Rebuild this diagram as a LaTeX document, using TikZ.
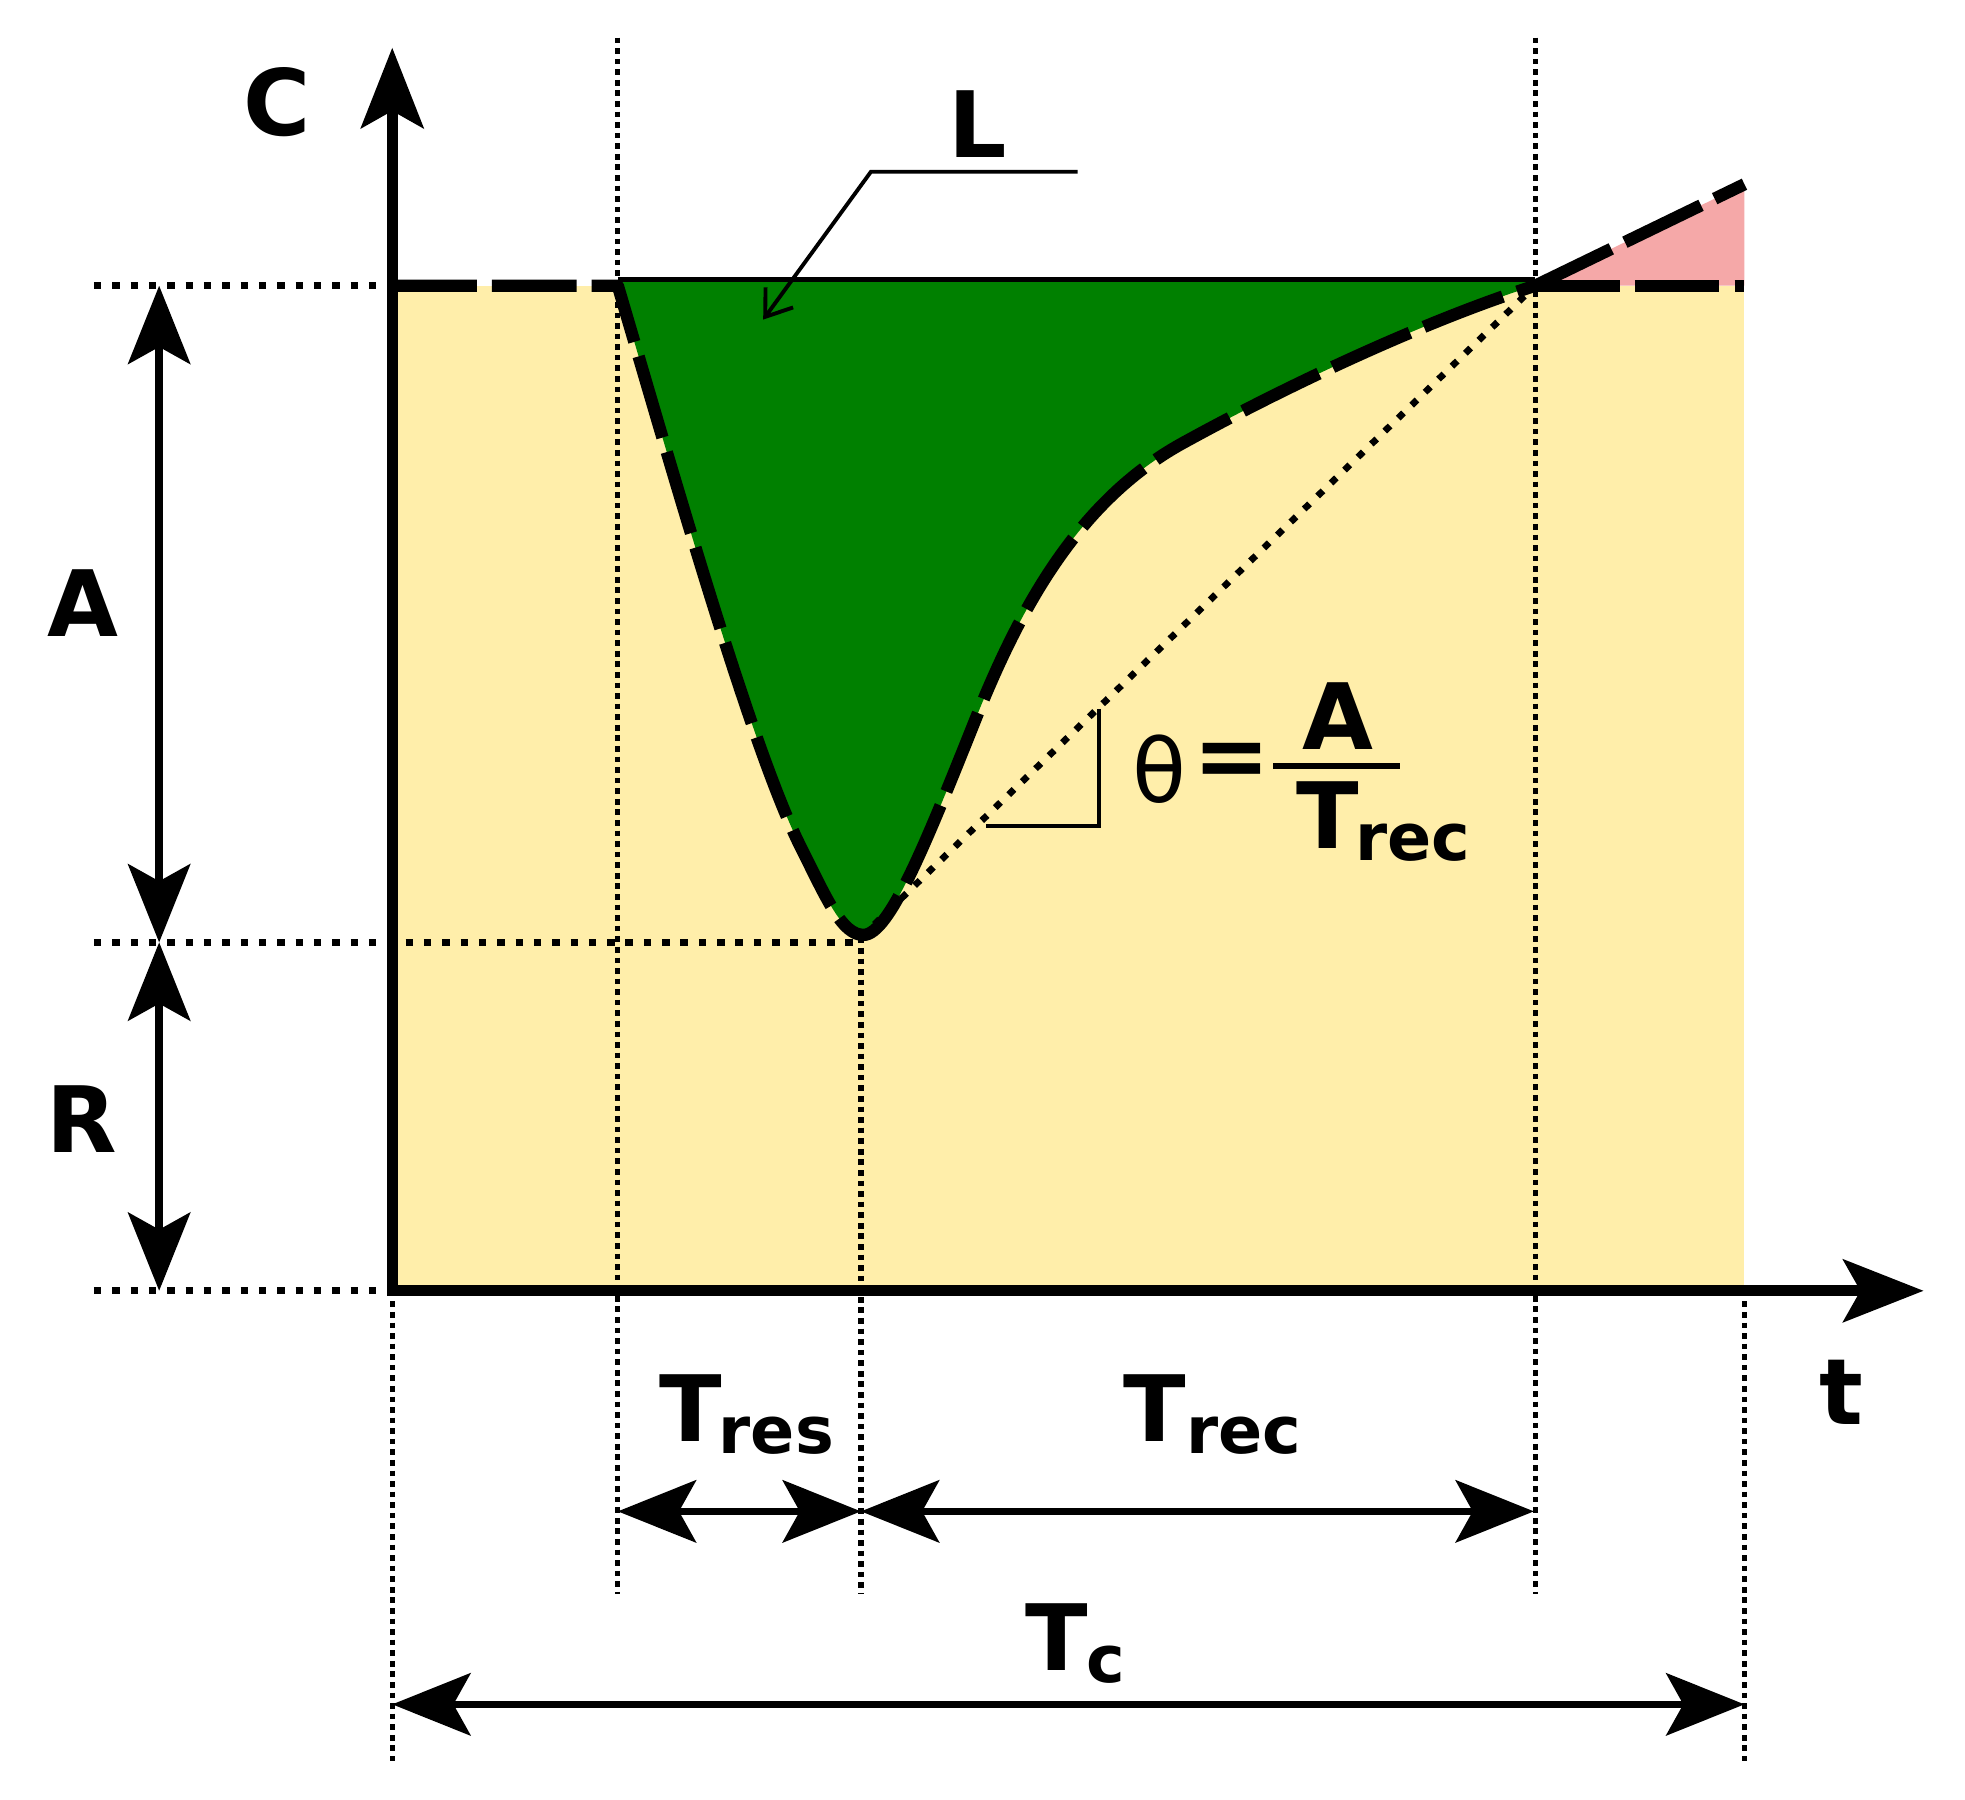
\documentclass[tikz,border=0pt]{standalone}
\usepackage{fontspec}
\setmainfont{DejaVu Sans}
\usetikzlibrary{arrows.meta}
\definecolor{bgyellow}{RGB}{255,238,170}
\definecolor{lossgreen}{RGB}{0,128,0}
\definecolor{gainpink}{RGB}{245,168,168}
\newcommand\Tsub[2][-0.04em]{T\kern#1\raisebox{-3.5pt}{\fontsize{18.5}{18.5}\selectfont #2}}
\tikzset{
  axisline/.style={line width=3.2pt, line join=miter,
    {Stealth[length=0.8cm,width=0.62cm,inset=0.17cm]}-{Stealth[length=0.8cm,width=0.62cm,inset=0.17cm]}},
  dimarrow/.style={line width=2.1pt,
    {Stealth[length=0.78cm,width=0.62cm,inset=0.17cm]}-{Stealth[length=0.78cm,width=0.62cm,inset=0.17cm]}},
  curveline/.style={line width=3.5pt, dash pattern=on 24pt off 4.3pt, line join=round},
  vdots/.style={line width=1.5pt, dash pattern=on 1.6pt off 1.4pt},
  hdots/.style={line width=1.9pt, dash pattern=on 2.1pt off 3.1pt},
  ddots/.style={line width=1.9pt, dash pattern=on 2.1pt off 3.2pt},
  thinline/.style={line width=1.2pt},
  lbl/.style={font=\fontsize{26}{26}\selectfont\bfseries, inner sep=0pt, anchor=base},
}
\begin{document}
\begin{tikzpicture}[x=0.0125cm,y=-0.0125cm]
\useasboundingbox (0,0) rectangle (1568,1436);
% key coordinates
\coordinate (O) at (313,1030);
\coordinate (Ytip) at (313,38);
\coordinate (Xtip) at (1535,1030);
\coordinate (S) at (493,228);
\coordinate (M) at (687,748);
\coordinate (E) at (1225,228);
\coordinate (Rend) at (1392,228);
\coordinate (Pk) at (1392,147);
\coordinate (Y0) at (313,228);
% fills
\fill[bgyellow] (313,228) rectangle (1392,1030);
\fill[lossgreen] (493,224) -- (493,228)
  .. controls (535,370) and (600,600) .. (640,678)
  .. controls (660,718) and (672,746) .. (689,746)
  .. controls (710,746) and (740,670) .. (782,565)
  .. controls (815,485) and (860,400) .. (943,354)
  .. controls (1030,306) and (1140,255) .. (1224,228)
  -- (1224,224) -- cycle;
\fill[gainpink] (E) -- (Pk) -- (Rend) -- cycle;
% dotted guide lines
\draw[vdots] (493,30) -- (493,1272);
\draw[vdots] (1225,30) -- (1225,1272);
\draw[vdots] (M) -- (687,1272);
\draw[vdots] (O) -- (313,1405);
\draw[vdots] (1392,1030) -- (1392,1405);
\draw[hdots] (75,228) -- (Y0);
\draw[hdots] (75,752) -- (687,752);
\draw[hdots] (75,1030) -- (O);
\draw[ddots] (M) -- (E);
% thin top edge of the loss area
\draw[thinline] (493,223) -- (1225,223);
% response curve
\draw[curveline] (Y0) -- (S)
  .. controls (535,370) and (600,600) .. (640,678)
  .. controls (660,718) and (672,746) .. (689,746)
  .. controls (710,746) and (740,670) .. (782,565)
  .. controls (815,485) and (860,400) .. (943,354)
  .. controls (1030,306) and (1140,255) .. (E);
\draw[curveline] (E) -- (Rend);
\draw[curveline] (E) -- (Pk);
% axes
\draw[axisline] (Ytip) -- (O) -- (Xtip);
% slope triangle
\draw[line width=1.3pt] (877,566) -- (877,659) -- (787,659);
% dimension arrows
\draw[dimarrow] (127,228) -- (127,752);
\draw[dimarrow] (127,752) -- (127,1030);
\draw[dimarrow] (493,1206) -- (687,1206);
\draw[dimarrow] (687,1206) -- (1224,1206);
\draw[dimarrow] (313,1360) -- (1392,1360);
% L leader
\coordinate (Lr) at (860,137);
\coordinate (Lk) at (695,137);
\coordinate (Lt) at (609,255);
\draw[line width=1.1pt, -{Straight Barb[length=0.24cm,width=0.34cm]}] (Lr) -- (Lk) -- (Lt);
% labels
\node[lbl] (lC) at (221,108) {C};
\node[lbl] (lL) at (780,126) {L};
\node[lbl] (lA) at (66,508) {A};
\node[lbl] (lR) at (65,920) {R};
\node[lbl] (lt) at (1469,1137) {t};
\node[lbl, anchor=base west] (lTres) at (526,1150) {\Tsub{res}};
\node[lbl, anchor=base west] (lTrec) at (896,1150) {\Tsub[0em]{rec}};
\node[lbl, anchor=base west] (lTc) at (818,1333) {\Tsub[-0.02em]{c}};
% formula
\node[font=\fontsize{25}{25}\selectfont, inner sep=0pt, anchor=base] (th) at (925,640) {θ};
\node[lbl, anchor=center] (eq) at (983,611) {=};
\draw[line width=1.8pt] (1016,611) -- (1117,611);
\node[lbl] (fA) at (1068,598) {A};
\node[lbl, anchor=base west] (fT) at (1034,677) {\Tsub[-0.04em]{rec}};
\end{tikzpicture}
\end{document}
